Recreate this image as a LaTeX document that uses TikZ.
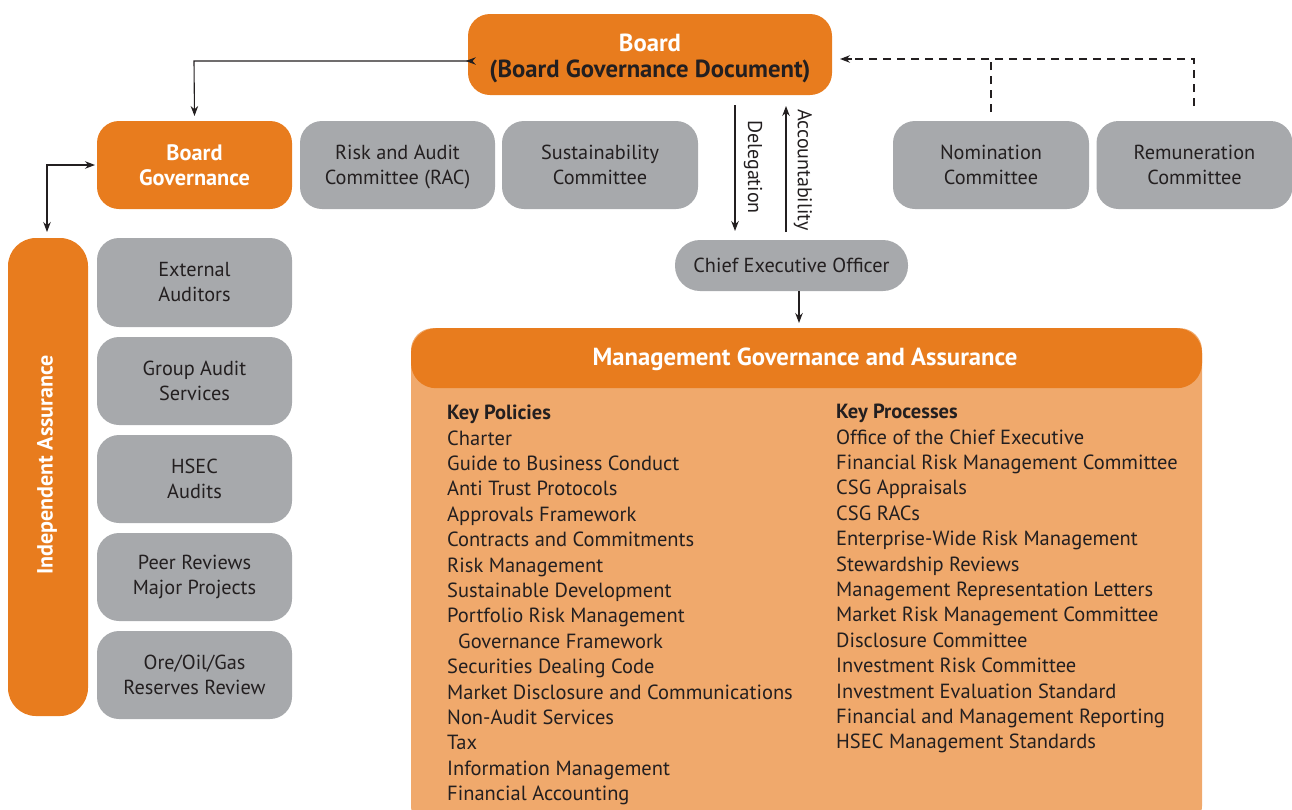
\documentclass[tikz,border=0pt]{standalone}
\usepackage{fontspec}
\setmainfont{PT Sans}
\usetikzlibrary{arrows.meta}
\definecolor{org}{HTML}{E87C1E}
\definecolor{lorg}{HTML}{F0A96C}
\definecolor{gry}{HTML}{A7A9AC}
\definecolor{ink}{HTML}{231F20}
\tikzset{
  box/.style={rounded corners=22pt, inner sep=0pt, align=center, font=\fontsize{20.3}{25}\selectfont, text=ink},
  graybox/.style={box, fill=gry},
  orgbox/.style={box, fill=org, text=white, font=\fontsize{22.3}{25}\selectfont\bfseries},
  arr/.style={draw=ink, line width=1.1pt, -{Stealth[length=10pt,width=7.5pt]}},
  darr/.style={draw=ink, line width=1.1pt, {Stealth[length=10pt,width=7.5pt]}-{Stealth[length=10pt,width=7.5pt]}},
  dashline/.style={draw=ink, line width=1.1pt, dash pattern=on 8pt off 6pt},
  listtxt/.style={anchor=north west, align=left, inner sep=0pt, text=ink, font=\fontsize{20.5}{25.4}\selectfont},
  lbl/.style={inner sep=0pt, text=ink, font=\fontsize{20}{22}\selectfont},
  bigtxt/.style={inner sep=0pt, align=center, text=white, font=\fontsize{24.7}{26}\selectfont\bfseries}
}
\begin{document}
\begin{tikzpicture}[x=1pt,y=-1pt]
\useasboundingbox (0,0) rectangle (1292,809);
\clip (0,0) rectangle (1292,809);
% Board
\node[orgbox, minimum width=364pt, minimum height=81pt] (board) at (650,54.5) {};
\node[bigtxt] (boardt) at (650,58.5) {Board\\\textcolor{ink}{(Board Governance Document)}};
% second row
\node[orgbox, minimum width=195pt, minimum height=88pt] (bg) at (194.5,165) {Board\\Governance};
\node[graybox, minimum width=195pt, minimum height=88pt] (rac) at (397.5,165) {};
\node[box] (ract) at (397.5,167) {Risk and Audit\\Committee (RAC)};
\node[graybox, minimum width=196pt, minimum height=88pt] (sus) at (600,165) {Sustainability\\Committee};
\node[graybox, minimum width=196pt, minimum height=88pt] (nom) at (991,165) {Nomination\\Committee};
\node[graybox, minimum width=196pt, minimum height=88pt] (rem) at (1194.5,165) {Remuneration\\Committee};
% CEO
\node[graybox, rounded corners=25pt, minimum width=233pt, minimum height=51pt] (ceo) at (791.5,265.5) {Chief Executive Officer};
% Independent assurance
\node[orgbox, rounded corners=28pt, minimum width=80pt, minimum height=478pt] (ia) at (48,477) {};
\node[rotate=90, text=white, font=\fontsize{22}{24}\selectfont\bfseries] (iat) at (47,465) {Independent Assurance};
% left boxes
\node[graybox, minimum width=195pt, minimum height=89pt] (ext) at (194.5,282.5) {External\\Auditors};
\node[graybox, minimum width=195pt, minimum height=88pt] (gas) at (194.5,381) {Group Audit\\Services};
\node[graybox, minimum width=195pt, minimum height=88pt] (hsec) at (194.5,479) {HSEC\\Audits};
\node[graybox, minimum width=195pt, minimum height=88pt] (peer) at (194.5,577) {Peer Reviews\\Major Projects};
\node[graybox, minimum width=195pt, minimum height=88pt] (ore) at (194.5,675) {Ore/Oil/Gas\\Reserves Review};
% Management box
\node[box, fill=lorg, minimum width=791pt, minimum height=500pt, anchor=north] (mgb) at (806.5,328) {};
\node[orgbox, rounded corners=25pt, minimum width=791pt, minimum height=60pt, anchor=north] (mgh) at (806.5,328) {};
\node[bigtxt] (mght) at (805,359) {Management Governance and Assurance};
\node[listtxt] (pol) at (447,405) {\textbf{Key Policies}\\Charter\\Guide to Business Conduct\\Anti Trust Protocols\\Approvals Framework\\Contracts and Commitments\\Risk Management\\Sustainable Development\\Portfolio Risk Management\\\hspace*{11pt}Governance Framework\\Securities Dealing Code\\Market Disclosure and Communications\\Non-Audit Services\\Tax\\Information Management\\Financial Accounting};
\node[listtxt] (pro) at (836,404) {\textbf{Key Processes}\\Office of the Chief Executive\\Financial Risk Management Committee\\CSG Appraisals\\CSG RACs\\Enterprise-Wide Risk Management\\Stewardship Reviews\\Management Representation Letters\\Market Risk Management Committee\\Disclosure Committee\\Investment Risk Committee\\Investment Evaluation Standard\\Financial and Management Reporting\\HSEC Management Standards};
% connectors
\coordinate (c1) at (194,61);
\draw[darr] (bg.north |- 0,116) -- (c1) -- (c1 -| board.west) -- ++(-2,0);
\coordinate (c2) at (47,165);
\draw[darr] (47,232) -- (c2) -- (95,165);
\coordinate (d1) at (735,105);
\coordinate (d2) at (735,231);
\draw[arr] (d1) -- (d2);
\coordinate (a1) at (786,232);
\coordinate (a2) at (786,106);
\draw[arr] (a1) -- (a2);
\node[lbl, rotate=-90] (dl) at (753,167) {Delegation};
\node[lbl, rotate=-90] (al) at (803,170) {Accountability};
\draw[arr] (ceo.south -| 799,0) -- (799,323);
% dashed
\coordinate (e1) at (1194,59);
\coordinate (e2) at (991,59);
\draw[dashline] (1194,106) -- (e1) -- (852,59);
\draw[dashline] (991,112) -- (e2);
\draw[arr] (852,59) -- (840,59);
\end{tikzpicture}
\end{document}
